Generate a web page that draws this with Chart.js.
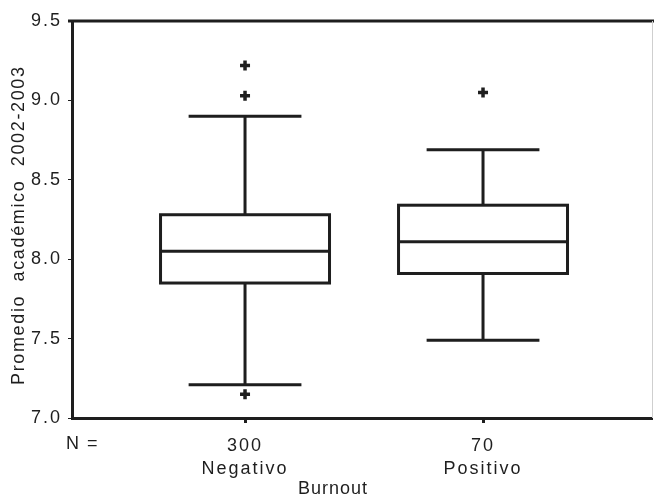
<!DOCTYPE html>
<html>
<head>
<meta charset="utf-8">
<script src="https://cdn.jsdelivr.net/npm/chart.js@4.4.0/dist/chart.umd.min.js"></script>
<style>
html, body { margin: 0; padding: 0; background: #fff; overflow: hidden; }
#wrap { width: 654px; height: 498px; }
</style>
</head>
<body>
<div id="wrap"><canvas id="boxChart"></canvas></div>
<script>
const categories = ['Negativo', 'Positivo'];
const counts = [300, 70];
const whiskerLow = [7.21, 7.49];
const q1 = [7.85, 7.91];
const median = [8.05, 8.11];
const q3 = [8.28, 8.34];
const whiskerHigh = [8.90, 8.69];
const outliers = [[9.22, 9.03, 7.15], [9.05]];

const INK = '#1e1e1e';
const FONT = '"Liberation Sans", Arial, sans-serif';

Chart.defaults.font.family = FONT;
Chart.defaults.color = INK;

const outlierPoints = [];
outliers.forEach((vals, i) => vals.forEach(v => outlierPoints.push({ x: i + 1, y: v })));

// boxes, whiskers and the extra labels
const boxPlugin = {
    id: 'boxPlugin',
    beforeDraw(chart) {
        chart.ctx.letterSpacing = '2px';
    },
    beforeDatasetsDraw(chart) {
        const { ctx, scales: { x, y } } = chart;
        const boxHalf = 0.355, capHalf = 0.237;
        ctx.save();
        ctx.strokeStyle = INK;
        ctx.lineWidth = 3;
        categories.forEach((c, i) => {
            const pos = i + 1;
            const xl = x.getPixelForValue(pos - boxHalf);
            const xr = x.getPixelForValue(pos + boxHalf);
            const xc = x.getPixelForValue(pos);
            const cl = x.getPixelForValue(pos - capHalf);
            const cr = x.getPixelForValue(pos + capHalf);
            const yq1 = y.getPixelForValue(q1[i]);
            const yq3 = y.getPixelForValue(q3[i]);
            const ym = y.getPixelForValue(median[i]);
            const ylo = y.getPixelForValue(whiskerLow[i]);
            const yhi = y.getPixelForValue(whiskerHigh[i]);

            ctx.beginPath();
            ctx.moveTo(xc, yq3); ctx.lineTo(xc, yhi);
            ctx.moveTo(cl, yhi); ctx.lineTo(cr, yhi);
            ctx.moveTo(xc, yq1); ctx.lineTo(xc, ylo);
            ctx.moveTo(cl, ylo); ctx.lineTo(cr, ylo);
            ctx.stroke();

            ctx.fillStyle = '#fff';
            ctx.fillRect(xl, yq3, xr - xl, yq1 - yq3);
            ctx.strokeRect(xl, yq3, xr - xl, yq1 - yq3);
            ctx.beginPath();
            ctx.moveTo(xl, ym); ctx.lineTo(xr, ym);
            ctx.stroke();
        });
        ctx.restore();
    },
    afterDraw(chart) {
        const { ctx, chartArea: a } = chart;
        ctx.save();
        // frame: heavy top line, faint right line
        ctx.strokeStyle = INK;
        ctx.lineWidth = 3;
        ctx.beginPath();
        ctx.moveTo(a.left - 4, a.top); ctx.lineTo(chart.width, a.top);
        ctx.stroke();
        ctx.strokeStyle = '#cfcfcf';
        ctx.lineWidth = 1;
        ctx.beginPath();
        ctx.moveTo(a.right + 0.5, a.top); ctx.lineTo(a.right + 0.5, a.bottom);
        ctx.stroke();

        ctx.letterSpacing = '1.5px';
        ctx.fillStyle = INK;
        ctx.font = '18px ' + FONT;
        ctx.textBaseline = 'middle';
        ctx.textAlign = 'left';
        ctx.fillText('N =', 66, 444);
        ctx.letterSpacing = '1px';
        ctx.fillText('Burnout', 298, 489);

        ctx.letterSpacing = '1.65px';
        ctx.translate(19, 385);
        ctx.rotate(-Math.PI / 2);
        ctx.fillText('Promedio  académico  2002-2003', 0, 0);
        ctx.restore();
    }
};

new Chart(document.getElementById('boxChart'), {
    type: 'scatter',
    data: {
        datasets: [{
            label: 'Atípicos',
            data: outlierPoints,
            pointStyle: 'cross',
            pointRadius: 5,
            pointBorderWidth: 3.5,
            borderColor: INK,
            backgroundColor: INK,
        }],
    },
    options: {
        responsive: true,
        maintainAspectRatio: false,
        animation: false,
        layout: { autoPadding: false, padding: { top: 21, right: 2, left: 0, bottom: 0 } },
        plugins: {
            legend: { display: false },
            tooltip: { enabled: false },
        },
        scales: {
            x: {
                type: 'linear',
                min: 0.273,
                max: 2.71,
                afterBuildTicks: (scale) => {
                    scale.ticks = categories.map((c, i) => ({ value: i + 1 }));
                },
                afterFit: (scale) => { scale.height = 80; },
                ticks: {
                    autoSkip: false,
                    maxRotation: 0,
                    padding: 11,
                    font: { size: 18, lineHeight: 1.3 },
                    callback: (v) => [String(counts[v - 1]), categories[v - 1]],
                },
                grid: { drawOnChartArea: false, tickLength: 5, tickWidth: 3, color: INK },
                border: { display: true, width: 3, color: INK },
            },
            y: {
                min: 7,
                max: 9.5,
                afterFit: (scale) => { scale.width = 72; },
                ticks: {
                    stepSize: 0.5,
                    padding: 6,
                    font: { size: 18 },
                    callback: (v) => v.toFixed(1),
                },
                grid: { drawOnChartArea: false, tickLength: 4, tickWidth: 1, color: INK },
                border: { display: true, width: 3, color: INK },
            },
        },
    },
    plugins: [boxPlugin],
});
</script>
</body>
</html>
